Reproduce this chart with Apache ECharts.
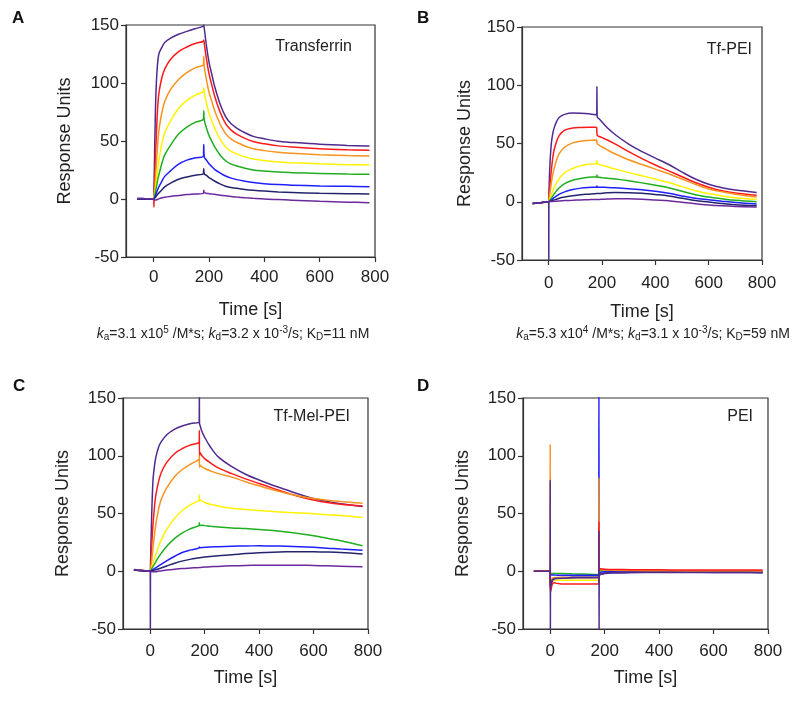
<!DOCTYPE html>
<html><head><meta charset="utf-8">
<script src="https://cdn.jsdelivr.net/npm/echarts@6/dist/echarts.min.js"></script>
<style>html,body{margin:0;padding:0;background:#fff}#c{width:800px;height:702px}</style>
</head><body><div id="c"></div>
<script>
// ---------- data ----------
const xTicks = [0, 200, 400, 600, 800];
const seriesNames = ['Curve 1', 'Curve 2', 'Curve 3', 'Curve 4', 'Curve 5', 'Curve 6', 'Curve 7', 'Curve 8'];
const panelTitles = ['Transferrin', 'Tf-PEI', 'Tf-Mel-PEI', 'PEI'];
const panelLetters = ['A', 'B', 'C', 'D'];

// Panel A (Transferrin)
const tA = [-60, -30, 0, 1, 2, 5, 8, 12, 16, 20, 30, 40, 60, 90, 120, 150, 180, 181, 183, 190, 200, 210, 220, 240, 260, 280, 300, 330, 360, 400, 450, 500, 600, 700, 780];
const A1 = [0.5, 0.3, 0, 8, 20, 60, 90, 110, 121, 126, 131, 135, 138.5, 142, 144.5, 146.8, 149, 150, 147, 133.5, 118, 107.7, 97.4, 81.9, 71, 64.8, 61.2, 57.1, 54, 51.9, 49.8, 48.8, 47.2, 46.2, 45.7];
const A2 = [0, 0, 0, -7, 8, 25, 45, 68, 84, 93, 105, 112, 120, 127, 131, 134, 136, 137, 134, 122, 108, 98.4, 89, 75, 65, 59.4, 56, 52.3, 49.5, 47.6, 45.8, 44.8, 43.4, 42.5, 42];
const A3 = [0, 0, 0, 2, 4, 12, 24, 38, 52, 61, 75, 84, 94, 103, 109, 113, 116, 123, 114, 104, 92, 84.4, 76.5, 64.7, 56.4, 51.6, 48.9, 45.7, 43.3, 41.7, 40.2, 39.4, 38.2, 37.4, 37];
const A4 = [0, 0, 0, 1, 2, 6, 12, 20, 28, 35, 48, 57, 67, 78, 85, 89.5, 93, 96, 92, 83.4, 73.9, 67.5, 61.2, 51.6, 44.9, 41.1, 38.9, 36.3, 34.4, 33.1, 31.8, 31.2, 30.3, 29.6, 29.3];
const A5 = [0, 0, 0, 0.5, 1, 4, 8, 13, 18, 22, 31, 38, 46, 56, 62, 66, 69, 76, 68, 61.8, 54.7, 49.9, 45.2, 38, 33, 30.1, 28.5, 26.5, 25.1, 24.2, 23.2, 22.7, 22, 21.5, 21.3];
const A6 = [0, 0, 0, 0.2, 0.5, 2, 4, 6.5, 9, 11, 15.5, 19.5, 24, 30, 33.5, 35.5, 37, 47, 36, 33.8, 30.4, 28, 25.6, 22.5, 19.8, 18, 16.7, 15.4, 14.3, 13.2, 12.4, 11.9, 11.3, 10.9, 10.6];
const A7 = [0, 0, 0, 0.1, 0.3, 1, 2, 3.3, 4.5, 5.5, 8, 10.5, 13.5, 17, 19, 20.5, 22, 26, 21.5, 20.5, 18.5, 17, 15.5, 13, 11, 10, 9.2, 8.2, 7.5, 6.8, 6.1, 5.6, 5, 4.6, 4.3];
const A8 = [0.5, 0.3, 0, -0.3, -0.5, -0.8, -0.8, -0.5, -0.2, 0.3, 1, 1.5, 2.2, 3, 3.8, 4.3, 5, 7.5, 5.5, 5, 4.6, 4.3, 4, 3.3, 2.7, 2.2, 1.7, 1.1, 0.6, 0, -0.5, -1, -2, -2.7, -3.2];

// Panel B (Tf-PEI)
const tB = [-60, -30, 0, 0.5, 1, 2, 5, 10, 15, 20, 30, 40, 60, 90, 120, 150, 180, 181, 182, 190, 200, 220, 250, 300, 350, 400, 450, 500, 550, 600, 650, 700, 780];
const B1 = [-1.5, -0.8, 0, -60, 4, 15, 33, 50, 58, 63, 69, 72.5, 75, 76.2, 76, 75.5, 74.5, 99, 73, 71, 68.5, 63.5, 57.5, 49.5, 43, 37.5, 32, 25.5, 19.5, 15, 12, 10, 8];
const B2 = [-1.5, -0.8, 0, 1, 2, 6, 15, 27, 37, 44, 52, 57, 61.5, 63.3, 63.8, 64, 64, 64, 57, 56, 55, 53, 49.5, 43, 37, 31.5, 26.5, 21.5, 16.5, 12.5, 9.5, 7.5, 5.5];
const B3 = [-1.5, -0.8, 0, 0.5, 1, 3, 8, 16, 23, 28, 36, 41.5, 47, 50.5, 52, 52.6, 53, 53, 50, 48.5, 47, 44.5, 41, 36, 32, 28, 24, 19.5, 15, 11, 8.5, 6.5, 4];
const B4 = [-1.5, -0.8, 0, 0.3, 0.6, 1, 3, 6, 9, 12, 16.5, 20, 25, 28.5, 31, 32.3, 33, 35.5, 32.5, 32, 31.3, 30, 28, 25, 22.3, 19.5, 16.5, 13, 9.5, 7, 5, 3.5, 2];
const B5 = [-1.5, -0.8, 0, 0.1, 0.3, 0.6, 1.5, 3, 4.8, 6.5, 9.5, 12, 15.5, 18.5, 20, 21, 21.5, 23, 21.3, 21, 20.7, 20.2, 19.5, 18, 16.2, 14.2, 12, 9, 6, 4, 2.5, 1.2, 0];
const B6 = [-1.5, -0.8, 0, 0, 0.1, 0.3, 0.8, 1.5, 2.5, 3.5, 5, 6.5, 8.5, 10.5, 11.7, 12.3, 12.6, 13.5, 12.5, 12.5, 12.4, 12.3, 12, 11.2, 10.2, 9, 7.3, 5, 3, 1.8, 0.5, -0.7, -2];
const B7 = [-1.5, -0.8, 0, 0, 0, 0.1, 0.3, 0.7, 1.1, 1.5, 2.2, 3, 4, 5.2, 6, 6.5, 7, 7.5, 7, 7.1, 7.3, 7.8, 8, 7.8, 7.2, 6.2, 5, 3, 1, -0.2, -1.5, -2.5, -3.5];
const B8 = [-1.5, -0.8, 0, 0, 0, 0, 0.1, 0.2, 0.3, 0.4, 0.5, 0.7, 1, 1.3, 1.6, 1.8, 2, 2.3, 2, 2, 2.1, 2.3, 2.5, 2.5, 2.2, 1.5, 0.8, -0.5, -1.8, -2.8, -3.5, -4, -4.5];

// Panel C (Tf-Mel-PEI)
const tC = [-60, -30, 0, 0.5, 1, 2, 5, 10, 15, 20, 30, 40, 60, 90, 120, 150, 180, 180.5, 181, 182, 190, 200, 220, 250, 300, 350, 400, 450, 500, 550, 600, 650, 700, 780];
const C1 = [1.2, 0.6, 0, -60, 5, 15, 45, 78, 90, 98, 107, 112, 118, 123, 126, 128, 129.5, 160, 128, 127, 121, 116, 108, 99, 90.5, 84, 79, 74.5, 70.5, 66.5, 63, 60.5, 58.5, 56];
const C2 = [1.5, 0.8, 0, 0.5, 1.5, 4, 20, 40, 54, 65, 77, 85, 94, 102, 106.5, 109.5, 112, 122, 100, 103, 100, 97.5, 94, 89.5, 84.5, 80, 76, 72, 68, 64.5, 61.7, 59.5, 58, 56.5];
const C3 = [1.2, 0.6, 0, 0.2, 0.6, 1.5, 8, 20, 30, 40, 53, 62, 72, 82, 88.5, 93, 97.5, 100, 90, 92, 90.5, 89, 87, 84.5, 81.5, 77.5, 74, 70.5, 67.5, 65, 63, 61.5, 60.3, 58.8];
const C4 = [1, 0.5, 0, 0.1, 0.3, 0.8, 3, 7, 10.5, 14, 21, 27, 36, 46, 53, 58, 62, 66, 61, 62, 61, 59.5, 58, 56.5, 54.5, 53.5, 52.5, 51.8, 51, 50.4, 49.8, 49, 48.2, 46.5];
const C5 = [1, 0.5, 0, 0, 0.2, 0.5, 2, 4, 6, 8, 12, 15.5, 21.5, 28.5, 33.5, 37, 40, 42, 39.5, 40, 39.8, 39.5, 39, 38.3, 37.5, 37, 36.2, 35.2, 34, 32.5, 30.7, 28.5, 26.4, 22];
const C6 = [1, 0.5, 0, 0, 0.1, 0.2, 0.8, 1.5, 2.2, 3, 4.5, 6, 9, 13, 16.5, 18.5, 20.3, 21, 20.3, 20.5, 20.6, 20.7, 21, 21.3, 21.7, 21.9, 22, 21.9, 21.7, 21.3, 20.7, 20, 19.2, 18.2];
const C7 = [1, 0.5, 0, 0, 0, 0.1, 0.3, 0.6, 1, 1.3, 2, 2.8, 4.5, 7, 9, 10.5, 11.7, 12, 11.7, 11.8, 12, 12.3, 12.8, 13.5, 14.3, 15.3, 16, 16.5, 16.8, 16.9, 16.8, 16.6, 16.2, 15];
const C8 = [1.2, 0.6, 0, 0, -0.1, -0.2, -0.4, -0.5, -0.5, -0.4, 0, 0.3, 1, 1.8, 2.4, 2.8, 3.2, 3.3, 3.2, 3.3, 3.4, 3.6, 3.9, 4.2, 4.7, 5, 5.2, 5.3, 5.3, 5.2, 5, 4.7, 4.4, 3.8];

// Panel D (PEI)
const tD = [-60, -1, 0, 0.5, 1, 3, 8, 15, 25, 40, 80, 120, 178, 179, 179.5, 180, 183, 190, 200, 230, 300, 400, 500, 600, 700, 780];
const D1 = [0, 0, 79, -60, -14, -12, -8, -6.5, -6, -6, -5.5, -5.5, -5.5, 35, -60, -3.5, -3, -2.5, -1.8, -1.2, -1, -1, -1, -1, -1.1, -1.2];
const D2 = [0, 0, 0, -18, -18, -16, -11, -10, -10.5, -11, -11, -11, -11, 43, 2, 2.3, 2.2, 2, 1.8, 1.6, 1.4, 1.2, 1.1, 1, 1, 1];
const D3 = [0, 0, 110, -8, -8, -7, -6, -5.5, -5.5, -5.5, -5.5, -5.5, -5.5, 81, 1.5, 1.5, 1.4, 1.3, 1.1, 0.9, 0.6, 0.4, 0.3, 0.3, 0.3, 0.3];
const D4 = [0, 0, 0, -14, -13, -11, -9, -8, -7.8, -7.8, -7.8, -7.8, -7.8, -7.8, 1, 1, 1, 0.9, 0.8, 0.6, 0.4, 0.3, 0.2, 0.2, 0.2, 0.2];
const D5 = [0, 0, 0, -2, -2, -2, -2, -2, -2, -2, -2.2, -2.4, -2.8, -2.8, 0.5, 0.5, 0.5, 0.5, 0.4, 0.3, 0.2, 0.1, 0, 0, 0, 0];
const D6 = [0, 0, 0, -3, -3, -3, -3.2, -3.3, -3.4, -3.5, -3.5, -3.5, -3.5, 160, -1, -1, -0.8, -0.6, -0.4, -0.2, 0, 0, 0, 0, 0, 0];
const D7 = [0, 0, 0, -12, -11, -9, -7, -6, -5.8, -5.5, -5.3, -5.2, -5, -5, -2.5, -2.5, -2.3, -2, -1.6, -1.1, -0.8, -0.7, -0.7, -0.8, -0.9, -1];
const D8 = [0, 0, 0, -14, -13, -11, -8, -6.5, -6.2, -6, -5.8, -5.6, -5.5, -5.5, -3, -3, -2.8, -2.4, -2, -1.4, -1, -0.9, -0.9, -1, -1, -1.1];

// ---------- style / layout ----------
const colors = ['#4f2b8f', '#ff1a1a', '#f7931e', '#fff200', '#1fae1f', '#1f1fff', '#24246e', '#6a2a9c'];
const FONT = '"Liberation Sans", Arial, sans-serif';
const panels = [
  { t: tA, d: [A1, A2, A3, A4, A5, A6, A7, A8], grid: { left: 126, top: 25, width: 249, height: 232 }, lm: 12, ng: 44, yg: 52 },
  { t: tB, d: [B1, B2, B3, B4, B5, B6, B7, B8], grid: { left: 522, top: 27, width: 240, height: 233 }, lm: 15, ng: 43, yg: 48 },
  { t: tC, d: [C1, C2, C3, C4, C5, C6, C7, C8], grid: { left: 123, top: 398, width: 245, height: 231 }, lm: 14, ng: 40, yg: 51 },
  { t: tD, d: [D1, D2, D3, D4, D5, D6, D7, D8], grid: { left: 523, top: 398, width: 245, height: 231 }, lm: 14, ng: 40, yg: 51 }
];
const zD = [6, 5, 4, 2, 2, 2, 2, 2];

const grids = [], xAxes = [], yAxes = [], series = [];
panels.forEach((p, i) => {
  grids.push(Object.assign({ show: true, borderColor: '#333', borderWidth: 1.2, backgroundColor: 'transparent' }, p.grid));
  xAxes.push({
    type: 'value', gridIndex: i, min: -100, max: 800,
    axisLine: { show: true, onZero: false, lineStyle: { color: '#333', width: 1.2 } },
    axisTick: { show: true, length: 5, customValues: xTicks, lineStyle: { color: '#333', width: 1.2 } },
    axisLabel: { customValues: xTicks, fontSize: 17, color: '#222', fontFamily: FONT, margin: p.lm },
    splitLine: { show: false },
    name: 'Time [s]', nameLocation: 'middle', nameGap: p.ng,
    nameTextStyle: { fontSize: 18, color: '#222', fontFamily: FONT }
  });
  yAxes.push({
    type: 'value', gridIndex: i, min: -50, max: 150, interval: 50,
    axisLine: { show: true, onZero: false, lineStyle: { color: '#333', width: 1.2 } },
    axisTick: { show: true, length: 5, lineStyle: { color: '#333', width: 1.2 } },
    axisLabel: { fontSize: 17, color: '#222', fontFamily: FONT, margin: 7 },
    splitLine: { show: false },
    name: 'Response Units', nameLocation: 'middle', nameGap: p.yg, nameRotate: 90,
    nameTextStyle: { fontSize: 18, color: '#222', fontFamily: FONT }
  });
  p.d.forEach((vals, k) => {
    series.push({
      name: seriesNames[k], type: 'line', xAxisIndex: i, yAxisIndex: i,
      data: p.t.map((x, j) => [x, vals[j]]),
      showSymbol: false, symbol: 'none', clip: true, smooth: 0.35,
      z: i === 3 ? zD[k] : 2,
      lineStyle: { width: 1.5, color: colors[k] },
      itemStyle: { color: colors[k] },
      emphasis: { disabled: true }
    });
  });
});

const titlePos = [[352, 47], [752, 50], [350, 417], [753, 417]];
const letterPos = [[12, 18], [417, 18], [13, 386], [417, 386]];
const graphic = [];
panels.forEach((p, i) => {
  graphic.push({ type: 'text', x: titlePos[i][0], y: titlePos[i][1], z: 100,
    style: { text: panelTitles[i], fontSize: 16, fontFamily: FONT, fill: '#222', align: 'right', verticalAlign: 'middle' } });
  graphic.push({ type: 'text', x: letterPos[i][0], y: letterPos[i][1], z: 100,
    style: { text: panelLetters[i], fontSize: 17, fontWeight: 'bold', fontFamily: FONT, fill: '#111', align: 'left', verticalAlign: 'middle' } });
});
const rich = {
  i: { fontStyle: 'italic', fontSize: 14, fontFamily: FONT, fill: '#222', lineHeight: 17 },
  sb: { fontSize: 10, fontFamily: FONT, fill: '#222', lineHeight: 10, verticalAlign: 'bottom' },
  sp: { fontSize: 10, fontFamily: FONT, fill: '#222', lineHeight: 10, verticalAlign: 'top' }
};
const captions = [
  { x: 233, y: 334, text: '{i|k}{sb|a}=3.1 x10{sp|5} /M*s; {i|k}{sb|d}=3.2 x 10{sp|-3}/s; K{sb|D}=11 nM' },
  { x: 653, y: 334, text: '{i|k}{sb|a}=5.3 x10{sp|4} /M*s; {i|k}{sb|d}=3.1 x 10{sp|-3}/s; K{sb|D}=59 nM' }
];
captions.forEach(c => graphic.push({ type: 'text', x: c.x, y: c.y, z: 100,
  style: { text: c.text, rich: rich, fontSize: 14, lineHeight: 17, fontFamily: FONT, fill: '#222', align: 'center', verticalAlign: 'middle' } }));

const chart = echarts.init(document.getElementById('c'), null, { renderer: 'canvas' });
chart.setOption({
  animation: false,
  backgroundColor: '#fff',
  grid: grids, xAxis: xAxes, yAxis: yAxes, series: series, graphic: graphic
});
</script></body></html>
